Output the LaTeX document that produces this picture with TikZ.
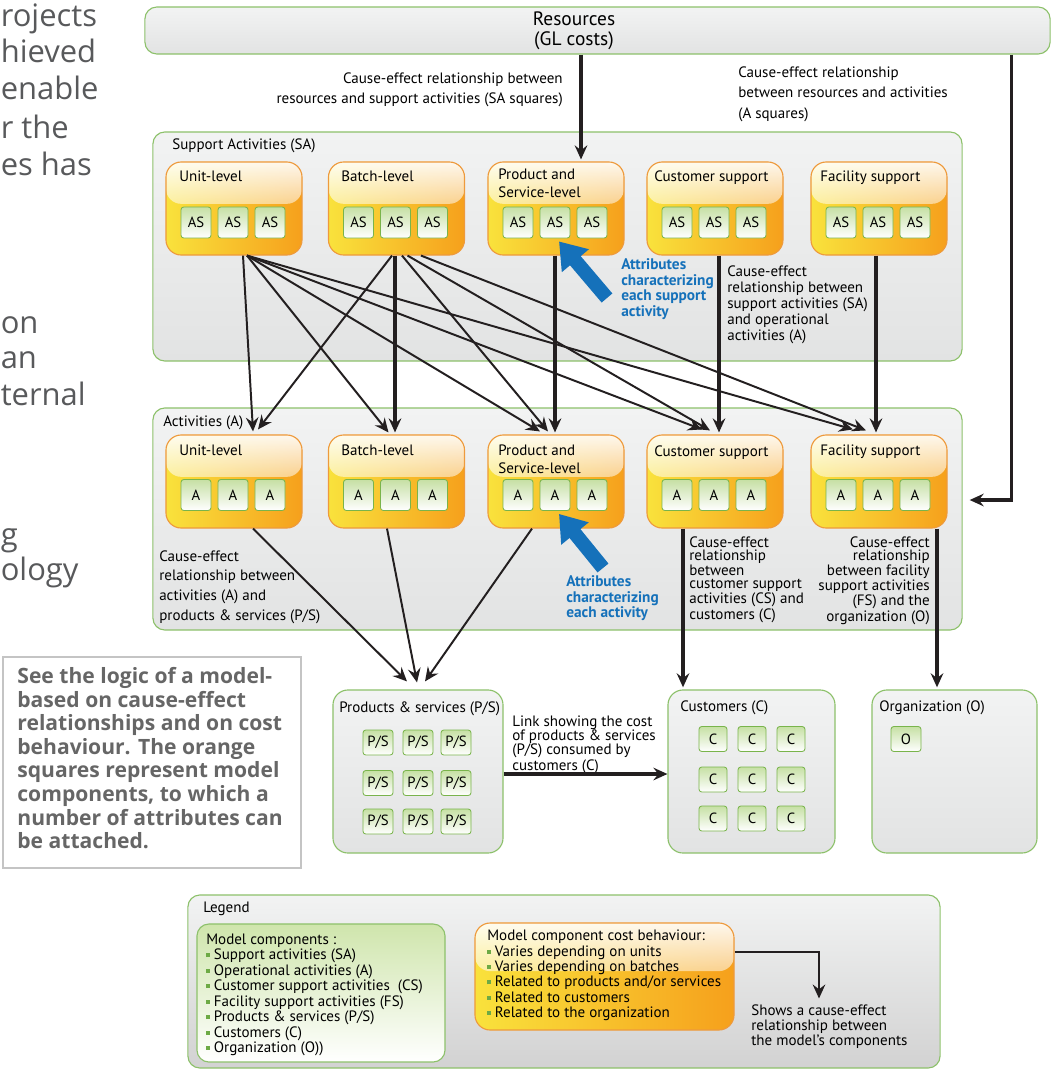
\documentclass[tikz,border=0pt]{standalone}
\usepackage{fontspec}
\setmainfont{PT Sans}
\newfontfamily\notefont{Open Sans}
\usetikzlibrary{arrows.meta,calc,fadings,positioning}

\definecolor{grpEdge}{HTML}{8DC16B}
\definecolor{grpTop}{HTML}{F2F3F3}
\definecolor{grpBot}{HTML}{E2E3E3}
\definecolor{legBot}{HTML}{D2D2D2}
\definecolor{compYellow}{HTML}{F9E23C}
\definecolor{compOrange}{HTML}{F6A01C}
\definecolor{compEdge}{HTML}{EE9A3C}
\definecolor{sqEdge}{HTML}{79B44B}
\definecolor{sqTop}{HTML}{C6E0A4}
\definecolor{legGreen}{HTML}{CFE5AC}
\definecolor{bulGreen}{HTML}{6DAA45}
\definecolor{lineBlack}{HTML}{231F20}
\definecolor{attrBlue}{HTML}{1571BA}
\definecolor{noteGrey}{HTML}{666666}
\definecolor{noteEdge}{HTML}{C4C4C4}
\definecolor{fragGrey}{HTML}{58595B}

\tikzfading[name=glossFade, top color=transparent!0, bottom color=transparent!100]

\newcommand{\legbul}{{\color{bulGreen}\rule[0.35ex]{2.8pt}{2.8pt}}\hspace{2.6pt}}

\begin{document}
\begin{tikzpicture}[x=0.025cm, y=-0.025cm, >={Stealth[length=10pt,width=9pt,inset=3.5pt]}]
    % Definizione stili
    \tikzset{
        grpbox/.style={draw=grpEdge, line width=0.8pt, rounded corners=0.3cm,
                      top color=grpTop, bottom color=grpBot,
                      minimum width=20.225cm, inner sep=0pt},
        comp/.style={draw=compEdge, line width=0.8pt, rounded corners=0.38cm,
                     left color=compYellow, right color=compOrange,
                     minimum width=3.4cm, minimum height=2.325cm, inner sep=0pt,
                     path picture={\fill[white, fill opacity=0.92, path fading=glossFade]
                        (path picture bounding box.north west) rectangle
                        ($(path picture bounding box.north east)!0.45!(path picture bounding box.south east)$);}},
        sq/.style={draw=sqEdge, line width=0.6pt, rounded corners=2pt,
                   top color=sqTop, bottom color=white, inner sep=0pt,
                   minimum width=0.75cm, minimum height=0.775cm,
                   font=\fontsize{10.5}{12}\selectfont},
        sqs/.style={sq, minimum width=0.75cm, minimum height=0.625cm},
        ttl/.style={inner sep=0pt, align=left, anchor=north west,
                    font=\fontsize{10.7}{12.2}\selectfont},
        lbl/.style={inner sep=0pt, font=\fontsize{10.7}{11.3}\selectfont},
        attr/.style={inner sep=0pt, align=left, anchor=north west, text=attrBlue,
                     font=\fontsize{10.9}{11.1}\selectfont\bfseries},
        relarrow/.style={->, draw=lineBlack, line width=1.4pt},
        relbold/.style={->, draw=lineBlack, line width=2.2pt},
        bluearr/.style={-{Triangle[length=18pt 0,width=24pt 0]}, draw=attrBlue, line width=10pt},
        frag/.style={inner sep=0pt, anchor=base west, text=fragGrey,
                     font=\notefont\fontsize{22}{25}\selectfont}
    }
    \path[use as bounding box, clip] (0,0) rectangle (1054,1072);

    % Testo tagliato a sinistra
    \foreach \t/\yb [count=\k] in {rojects/26, hieved/62, enable/99, r the/138, es has/175,
        on/333, an/368, ternal/405, g/545, ology/580}
        \node[frag] (frag\k) at (0.5,\yb) {\t};

    % Risorse
    \node[grpbox, minimum width=22.625cm, minimum height=1.175cm] (res) at (597.5,30.5) {};
    \node[lbl, align=center, font=\fontsize{13.8}{14.4}\selectfont] (resT) at (574,30.5) {Resources\\(GL costs)};
    \node[lbl, align=right, anchor=north east, font=\fontsize{10.7}{14.2}\selectfont] (resSAT) at (563,73)
        {Cause-effect relationship between\\resources and support activities (SA squares)};
    \node[lbl, align=left, anchor=north west, font=\fontsize{10.7}{14.5}\selectfont] (resAT) at (738,66.5)
        {Cause-effect relationship\\between resources and activities\\(A squares)};

    % Attivita di supporto
    \node[grpbox, minimum height=5.725cm] (saGroup) at (557.5,246.5) {};
    \node[ttl] (saGroupT) at (172,139) {Support Activities (SA)};
    \node[comp] (saUnit) at (234,208.5) {};
    \node[comp] (saBatch) at (396.5,208.5) {};
    \node[comp] (saProd) at (556,208.5) {};
    \node[comp] (saCust) at (715,208.5) {};
    \node[comp] (saFac) at (879,208.5) {};
    \node[ttl] (saUnitT) at (179,171) {Unit-level};
    \node[ttl] (saBatchT) at (341,171) {Batch-level};
    \node[ttl] (saProdT) at (498,169) {Product and\\Service-level};
    \node[ttl] (saCustT) at (654,171) {Customer support};
    \node[ttl] (saFacT) at (820,171) {Facility support};

    % Attivita
    \node[grpbox, minimum height=5.55cm] (aGroup) at (557.5,519) {};
    \node[ttl] (aGroupT) at (163,416) {Activities (A)};
    \node[comp] (aUnit) at (234,481.5) {};
    \node[comp] (aBatch) at (396.5,481.5) {};
    \node[comp] (aProd) at (556,481.5) {};
    \node[comp] (aCust) at (715,481.5) {};
    \node[comp] (aFac) at (879,481.5) {};
    \node[ttl] (aUnitT) at (179,445) {Unit-level};
    \node[ttl] (aBatchT) at (341,445) {Batch-level};
    \node[ttl] (aProdT) at (498,445) {Product and\\Service-level};
    \node[ttl] (aCustT) at (654,445) {Customer support};
    \node[ttl] (aFacT) at (820,445) {Facility support};

    % Quadrati AS e A
    \foreach \b/\cx in {Unit/234, Batch/396.5, Prod/556, Cust/715, Fac/879}
        \foreach \i/\dx in {1/-38, 2/-1, 3/36}{
            \node[sq] (sa\b-\i) at (\cx+\dx,222.5) {AS};
            \node[sq] (a\b-\i) at (\cx+\dx,495) {A};
        }

    % Prodotti, clienti, organizzazione
    \node[grpbox, minimum width=4.25cm, minimum height=4.075cm, rounded corners=0.375cm] (psBox) at (418,771.5) {};
    \node[ttl] (psBoxT) at (339,701) {Products \& services (P/S)};
    \node[grpbox, minimum width=4.175cm, minimum height=4.075cm, rounded corners=0.375cm] (custBox) at (751.5,771.5) {};
    \node[ttl] (custBoxT) at (680,700) {Customers (C)};
    \node[grpbox, minimum width=4.125cm, minimum height=4.075cm, rounded corners=0.375cm] (orgBox) at (954.5,771.5) {};
    \node[ttl] (orgBoxT) at (879,700) {Organization (O)};
    \foreach \r/\ry in {1/742.5, 2/783, 3/821.5}
        \foreach \c/\rx in {1/378, 2/418, 3/456}
            \node[sqs] (ps\r\c) at (\rx,\ry) {P/S};
    \foreach \r/\ry in {1/739, 2/779.5, 3/818.5}
        \foreach \c/\rx in {1/713, 2/752, 3/791}
            \node[sqs, minimum width=0.7cm] (c\r\c) at (\rx,\ry) {C};
    \node[sqs] (o11) at (906,739) {O};

    % Spiegazioni
    \node[lbl, align=left, anchor=north west] (saAT) at (727,266)
        {Cause-effect\\relationship between\\support activities (SA)\\and operational\\activities (A)};
    \node[lbl, align=left, anchor=north west, font=\fontsize{10.7}{14.2}\selectfont] (aPsT) at (159,550)
        {Cause-effect\\relationship between\\activities (A) and\\products \& services (P/S)};
    \node[lbl, align=left, anchor=north west, font=\fontsize{10.7}{9.5}\selectfont] (aCT) at (689,536)
        {Cause-effect\\relationship\\between\\customer support\\activities (CS) and\\customers (C)};
    \node[lbl, align=right, anchor=north east, font=\fontsize{10.7}{9.5}\selectfont] (aOT) at (930,536)
        {Cause-effect\\relationship\\between facility\\support activities\\(FS) and the\\organization (O)};
    \node[lbl, align=left, anchor=north west, font=\fontsize{10.7}{9.9}\selectfont] (psCT) at (512,716)
        {Link showing the cost\\of products \& services\\(P/S) consumed by\\customers (C)};
    \node[attr] (attrSA) at (621,258.5) {Attributes\\characterizing\\each support\\activity};
    \node[attr] (attrA) at (566,575.5) {Attributes\\characterizing\\each activity};

    % Nota
    \node[inner sep=0pt, align=left, anchor=north east, text=noteGrey,
          font=\notefont\bfseries\fontsize{15}{16.8}\selectfont] (noteT) at (283,667)
        {See the logic of a model-\\based on cause-effect\\relationships and on cost\\behaviour. The orange\\squares represent model\\components, to which a\\number of attributes can\\be attached.};
    \draw[noteEdge, line width=1pt] ($(noteT.north west)+(-14,-10)$) rectangle ($(noteT.north east)+(18,201)$);

    % Connessioni
    \draw[relbold] ($(res.south)+(-16.5,0)$) -- ($(saProd.north)+(25,-2)$);
    \draw[relbold] ($(res.south east)+(-39,0)$) |- ($(aGroup.east)+(7,-19)$);
    \draw[relarrow] ($(saUnit.south)+(9,0)$) -- ($(aUnit.north)+(19,-3)$);
    \draw[relarrow] ($(saUnit.south)+(13,0)$) -- ($(aBatch.north)+(-8,-2)$);
    \draw[relarrow] ($(saUnit.south)+(13,0)$) -- ($(aProd.north)+(-16,-3)$);
    \draw[relarrow] ($(saUnit.south)+(13,0)$) -- ($(aCust.north)+(-13,-5)$);
    \draw[relarrow] ($(saUnit.south)+(13,0)$) -- ($(aFac.north)+(-26,-5)$);
    \draw[relarrow] ($(saBatch.south)+(-4.5,0)$) -- ($(aUnit.north)+(24,-5)$);
    \draw[relbold] ($(saBatch.south)+(-1.5,0)$) -- ($(aBatch.north)+(-1.5,-2)$);
    \draw[relarrow] ($(saBatch.south)+(5.5,0)$) -- ($(aProd.north)+(-8,-3)$);
    \draw[relarrow] ($(saBatch.south)+(11,0)$) -- ($(aCust.north)+(-5,-4)$);
    \draw[relarrow] ($(saBatch.south)+(24.5,0)$) -- ($(aFac.north)+(-13,-4)$);
    \draw[relbold] ($(saProd.south)+(-1,0)$) -- ($(aProd.north)+(-1,-2)$);
    \draw[relbold] ($(saCust.south)+(4,0)$) -- ($(aCust.north)+(4,-2)$);
    \draw[relbold] ($(saFac.south)+(-3,0)$) -- ($(aFac.north)+(-3,-2)$);
    \draw[relarrow] ($(aUnit.south)+(19,0)$) -- ($(psBox.north)+(-11,-8)$);
    \draw[relarrow] ($(aBatch.south)+(-9.5,0)$) -- ($(psBox.north)+(-1,-7)$);
    \draw[relarrow] ($(aProd.south)+(-24,0)$) -- ($(psBox.north)+(7,-8)$);
    \coordinate (custIn) at ($(aCust.south)+(-32,0)$);
    \coordinate (orgIn) at ($(aFac.south)+(58,0)$);
    \draw[relbold, shorten >=1.5pt] (custIn) -- (custIn |- custBox.north);
    \draw[relbold, shorten >=1.5pt] (orgIn) -- (orgIn |- orgBox.north);
    \draw[relbold] ($(psBox.east)+(0,2.5)$) -- ($(custBox.west)+(0,2.5)$);
    \coordinate (blueTailSA) at (607,298);
    \coordinate (blueTailA) at (603,568);
    \draw[bluearr] (blueTailSA) -- ($(saProd-2.south)+(4,3)$);
    \draw[bluearr] (blueTailA) -- ($(aProd-2.south)+(4,3)$);

    % Legenda
    \node[grpbox, minimum width=18.8cm, minimum height=4.325cm, bottom color=legBot] (legend) at (564,981.5) {};
    \node[ttl] (legendT) at (203,901.5) {Legend};
    \node[draw=grpEdge, line width=0.8pt, rounded corners=0.3cm, top color=legGreen, bottom color=white,
          minimum width=6.2cm, minimum height=3.45cm] (legComp) at (321,993) {};
    \node[lbl, align=left, anchor=north west, font=\fontsize{10.7}{11}\selectfont] (legCompT) at (206,933.5)
        {Model components :\\\legbul Support activities (SA)\\\legbul Operational activities (A)\\\legbul Customer support activities \ (CS)\\\legbul Facility support activities (FS)\\\legbul Products \& services (P/S)\\\legbul Customers (C)\\\legbul Organization (O))};
    \node[comp, minimum width=6.475cm, minimum height=2.675cm] (legCost) at (604.5,976.5) {};
    \node[lbl, align=left, anchor=north west, font=\fontsize{10.7}{10.9}\selectfont] (legCostT) at (487,930)
        {Model component cost behaviour:\\\legbul Varies depending on units\\\legbul Varies depending on batches\\\legbul Related to products and/or services\\\legbul Related to customers\\\legbul Related to the organization};
    \node[lbl, align=left, anchor=north west, font=\fontsize{10.7}{11}\selectfont] (legShows) at (751,1004)
        {Shows a cause-effect\\relationship between\\the model's components};
    \draw[relarrow] ($(legCost.north east)+(0,30)$) -| ($(legShows.north west)+(68,-5.5)$);
\end{tikzpicture}
\end{document}
